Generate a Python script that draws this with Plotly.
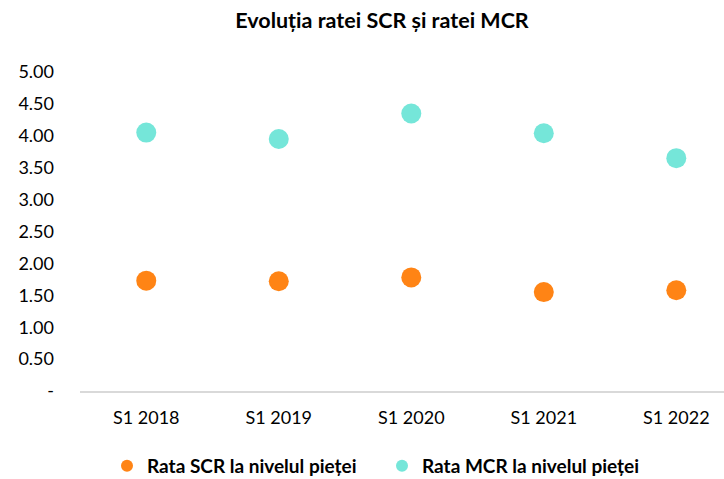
import plotly.graph_objects as go

categories = ["S1 2018", "S1 2019", "S1 2020", "S1 2021", "S1 2022"]
scr_values = [1.73, 1.72, 1.78, 1.55, 1.58]
mcr_values = [4.05, 3.95, 4.35, 4.04, 3.65]
y_tickvals = [0, 0.5, 1.0, 1.5, 2.0, 2.5, 3.0, 3.5, 4.0, 4.5, 5.0]
y_ticktext = ["-", "0.50", "1.00", "1.50", "2.00", "2.50", "3.00", "3.50", "4.00", "4.50", "5.00"]

FONT = "Lato, 'Open Sans', sans-serif"

fig = go.Figure()
fig.add_trace(go.Scatter(
    x=categories, y=scr_values, mode="markers", name="<b>Rata SCR la nivelul pieței</b>",
    marker=dict(color="#FF8415", size=20, line=dict(width=0)),
))
fig.add_trace(go.Scatter(
    x=categories, y=mcr_values, mode="markers", name="<b>Rata MCR la nivelul pieței</b>",
    marker=dict(color="#75E6D9", size=20, line=dict(width=0)),
))

fig.update_layout(
    width=724, height=479,
    margin=dict(l=80, r=0, t=72, b=88),
    paper_bgcolor="white", plot_bgcolor="white",
    font=dict(family=FONT, size=18, color="#000000"),
    title=dict(text="<b>Evoluția ratei SCR și ratei MCR</b>", x=382/724, xanchor="center",
               y=1 - 20/479, yanchor="middle", font=dict(size=21.5, family=FONT)),
    showlegend=True,
    legend=dict(orientation="h", xref="container", yref="container",
                x=107/724, xanchor="left", y=1 - 466/479, yanchor="middle",
                font=dict(size=19, family=FONT), itemsizing="constant", itemwidth=30,
                entrywidth=230, traceorder="normal", bgcolor="rgba(0,0,0,0)"),
)
fig.update_xaxes(
    type="category", range=[-0.5, 4.36], showgrid=False, zeroline=False,
    showline=True, linecolor="#d9d9d9", linewidth=1.5, ticks="", ticklabelstandoff=10,
    tickfont=dict(size=18, family=FONT),
)
fig.update_yaxes(
    range=[0, 5.0], tickvals=y_tickvals, ticktext=y_ticktext, showgrid=False,
    zeroline=False, showline=False, ticks="", ticklabelstandoff=25,
    tickfont=dict(size=18, family=FONT),
)

fig.write_html("out.html", config={"displayModeBar": False},
               post_script="document.body.style.margin='0';")
